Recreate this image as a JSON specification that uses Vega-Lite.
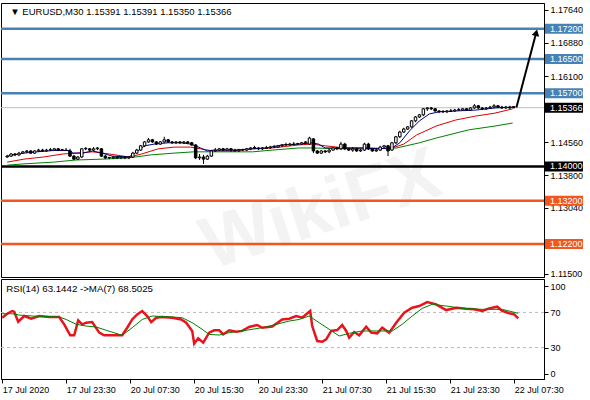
{
"$schema": "https://vega.github.io/schema/vega-lite/v6.json",
"padding": {"left": -4, "top": 2, "right": 0, "bottom": 0},
"background": "white",
"spacing": 2,
"bounds": "flush",
"config": {
  "view": {"stroke": "black", "strokeWidth": 1},
  "axis": {"labelFont": "Liberation Sans", "labelFontSize": 9, "labelColor": "black", "domainColor": "black", "tickColor": "black", "grid": false, "tickSize": 4, "labelPadding": 2},
  "text": {"font": "Liberation Sans", "fontSize": 9}
},
"datasets": {
  "candles": [
{"i":0,"o":1.1422,"h":1.1427,"l":1.1420,"c":1.1424},
{"i":1,"o":1.1424,"h":1.1431,"l":1.1422,"c":1.1429},
{"i":2,"o":1.1429,"h":1.1431,"l":1.1424,"c":1.1427},
{"i":3,"o":1.1427,"h":1.1434,"l":1.1424,"c":1.1431},
{"i":4,"o":1.1431,"h":1.1436,"l":1.1429,"c":1.1434},
{"i":5,"o":1.1434,"h":1.1438,"l":1.1431,"c":1.1436},
{"i":6,"o":1.1436,"h":1.1438,"l":1.1429,"c":1.1431},
{"i":7,"o":1.1431,"h":1.1438,"l":1.1429,"c":1.1436},
{"i":8,"o":1.1436,"h":1.1441,"l":1.1434,"c":1.1438},
{"i":9,"o":1.1438,"h":1.1441,"l":1.1434,"c":1.1436},
{"i":10,"o":1.1436,"h":1.1441,"l":1.1434,"c":1.1438},
{"i":11,"o":1.1438,"h":1.1443,"l":1.1436,"c":1.1439},
{"i":12,"o":1.1438,"h":1.1443,"l":1.1436,"c":1.1441},
{"i":13,"o":1.1441,"h":1.1443,"l":1.1436,"c":1.1438},
{"i":14,"o":1.1438,"h":1.1441,"l":1.1436,"c":1.1439},
{"i":15,"o":1.1438,"h":1.1443,"l":1.1436,"c":1.1437},
{"i":16,"o":1.1436,"h":1.1441,"l":1.1422,"c":1.1424},
{"i":17,"o":1.1424,"h":1.1427,"l":1.1415,"c":1.1417},
{"i":18,"o":1.1417,"h":1.1424,"l":1.1415,"c":1.1422},
{"i":19,"o":1.1422,"h":1.1443,"l":1.1420,"c":1.1441},
{"i":20,"o":1.1441,"h":1.1445,"l":1.1438,"c":1.1442},
{"i":21,"o":1.1441,"h":1.1443,"l":1.1436,"c":1.1438},
{"i":22,"o":1.1438,"h":1.1445,"l":1.1436,"c":1.1441},
{"i":23,"o":1.1441,"h":1.1445,"l":1.1438,"c":1.1443},
{"i":24,"o":1.1441,"h":1.1443,"l":1.1422,"c":1.1424},
{"i":25,"o":1.1424,"h":1.1427,"l":1.1417,"c":1.1420},
{"i":26,"o":1.1420,"h":1.1422,"l":1.1417,"c":1.1421},
{"i":27,"o":1.1420,"h":1.1424,"l":1.1417,"c":1.1422},
{"i":28,"o":1.1422,"h":1.1424,"l":1.1417,"c":1.1420},
{"i":29,"o":1.1420,"h":1.1424,"l":1.1417,"c":1.1422},
{"i":30,"o":1.1422,"h":1.1424,"l":1.1417,"c":1.1420},
{"i":31,"o":1.1420,"h":1.1424,"l":1.1417,"c":1.1422},
{"i":32,"o":1.1422,"h":1.1434,"l":1.1420,"c":1.1431},
{"i":33,"o":1.1431,"h":1.1441,"l":1.1429,"c":1.1438},
{"i":34,"o":1.1438,"h":1.1450,"l":1.1436,"c":1.1448},
{"i":35,"o":1.1448,"h":1.1459,"l":1.1445,"c":1.1457},
{"i":36,"o":1.1457,"h":1.1466,"l":1.1455,"c":1.1462},
{"i":37,"o":1.1462,"h":1.1464,"l":1.1455,"c":1.1457},
{"i":38,"o":1.1457,"h":1.1459,"l":1.1450,"c":1.1452},
{"i":39,"o":1.1452,"h":1.1459,"l":1.1450,"c":1.1457},
{"i":40,"o":1.1457,"h":1.1469,"l":1.1455,"c":1.1462},
{"i":41,"o":1.1462,"h":1.1464,"l":1.1455,"c":1.1457},
{"i":42,"o":1.1457,"h":1.1459,"l":1.1452,"c":1.1455},
{"i":43,"o":1.1455,"h":1.1459,"l":1.1452,"c":1.1457},
{"i":44,"o":1.1457,"h":1.1459,"l":1.1452,"c":1.1455},
{"i":45,"o":1.1455,"h":1.1459,"l":1.1452,"c":1.1457},
{"i":46,"o":1.1457,"h":1.1459,"l":1.1452,"c":1.1455},
{"i":47,"o":1.1455,"h":1.1457,"l":1.1448,"c":1.1450},
{"i":48,"o":1.1450,"h":1.1452,"l":1.1417,"c":1.1420},
{"i":49,"o":1.1420,"h":1.1429,"l":1.1415,"c":1.1422},
{"i":50,"o":1.1422,"h":1.1427,"l":1.1406,"c":1.1417},
{"i":51,"o":1.1417,"h":1.1427,"l":1.1415,"c":1.1424},
{"i":52,"o":1.1424,"h":1.1438,"l":1.1422,"c":1.1436},
{"i":53,"o":1.1436,"h":1.1443,"l":1.1434,"c":1.1438},
{"i":54,"o":1.1438,"h":1.1443,"l":1.1436,"c":1.1441},
{"i":55,"o":1.1441,"h":1.1443,"l":1.1436,"c":1.1438},
{"i":56,"o":1.1438,"h":1.1443,"l":1.1436,"c":1.1441},
{"i":57,"o":1.1441,"h":1.1443,"l":1.1434,"c":1.1438},
{"i":58,"o":1.1438,"h":1.1441,"l":1.1434,"c":1.1436},
{"i":59,"o":1.1436,"h":1.1441,"l":1.1434,"c":1.1438},
{"i":60,"o":1.1438,"h":1.1441,"l":1.1436,"c":1.1439},
{"i":61,"o":1.1438,"h":1.1443,"l":1.1436,"c":1.1441},
{"i":62,"o":1.1441,"h":1.1445,"l":1.1438,"c":1.1443},
{"i":63,"o":1.1443,"h":1.1448,"l":1.1441,"c":1.1444},
{"i":64,"o":1.1443,"h":1.1445,"l":1.1438,"c":1.1441},
{"i":65,"o":1.1441,"h":1.1445,"l":1.1438,"c":1.1443},
{"i":66,"o":1.1443,"h":1.1448,"l":1.1441,"c":1.1442},
{"i":67,"o":1.1443,"h":1.1448,"l":1.1441,"c":1.1445},
{"i":68,"o":1.1445,"h":1.1450,"l":1.1443,"c":1.1446},
{"i":69,"o":1.1445,"h":1.1450,"l":1.1443,"c":1.1448},
{"i":70,"o":1.1448,"h":1.1452,"l":1.1445,"c":1.1450},
{"i":71,"o":1.1450,"h":1.1455,"l":1.1448,"c":1.1451},
{"i":72,"o":1.1450,"h":1.1455,"l":1.1448,"c":1.1452},
{"i":73,"o":1.1452,"h":1.1457,"l":1.1450,"c":1.1451},
{"i":74,"o":1.1452,"h":1.1455,"l":1.1450,"c":1.1453},
{"i":75,"o":1.1452,"h":1.1457,"l":1.1450,"c":1.1455},
{"i":76,"o":1.1455,"h":1.1459,"l":1.1452,"c":1.1457},
{"i":77,"o":1.1452,"h":1.1469,"l":1.1450,"c":1.1466},
{"i":78,"o":1.1464,"h":1.1466,"l":1.1431,"c":1.1436},
{"i":79,"o":1.1436,"h":1.1438,"l":1.1429,"c":1.1431},
{"i":80,"o":1.1431,"h":1.1438,"l":1.1429,"c":1.1436},
{"i":81,"o":1.1436,"h":1.1438,"l":1.1431,"c":1.1434},
{"i":82,"o":1.1434,"h":1.1441,"l":1.1431,"c":1.1438},
{"i":83,"o":1.1438,"h":1.1445,"l":1.1436,"c":1.1443},
{"i":84,"o":1.1443,"h":1.1445,"l":1.1438,"c":1.1441},
{"i":85,"o":1.1441,"h":1.1457,"l":1.1438,"c":1.1452},
{"i":86,"o":1.1452,"h":1.1455,"l":1.1438,"c":1.1441},
{"i":87,"o":1.1441,"h":1.1443,"l":1.1436,"c":1.1438},
{"i":88,"o":1.1438,"h":1.1445,"l":1.1434,"c":1.1441},
{"i":89,"o":1.1441,"h":1.1443,"l":1.1434,"c":1.1436},
{"i":90,"o":1.1436,"h":1.1441,"l":1.1434,"c":1.1438},
{"i":91,"o":1.1438,"h":1.1455,"l":1.1436,"c":1.1452},
{"i":92,"o":1.1452,"h":1.1455,"l":1.1438,"c":1.1441},
{"i":93,"o":1.1441,"h":1.1443,"l":1.1434,"c":1.1436},
{"i":94,"o":1.1436,"h":1.1443,"l":1.1434,"c":1.1438},
{"i":95,"o":1.1438,"h":1.1448,"l":1.1436,"c":1.1445},
{"i":96,"o":1.1445,"h":1.1450,"l":1.1443,"c":1.1448},
{"i":97,"o":1.1448,"h":1.1450,"l":1.1424,"c":1.1436},
{"i":98,"o":1.1438,"h":1.1457,"l":1.1436,"c":1.1455},
{"i":99,"o":1.1455,"h":1.1471,"l":1.1452,"c":1.1469},
{"i":100,"o":1.1469,"h":1.1483,"l":1.1466,"c":1.1480},
{"i":101,"o":1.1480,"h":1.1490,"l":1.1478,"c":1.1487},
{"i":102,"o":1.1487,"h":1.1494,"l":1.1485,"c":1.1492},
{"i":103,"o":1.1492,"h":1.1508,"l":1.1490,"c":1.1506},
{"i":104,"o":1.1506,"h":1.1517,"l":1.1503,"c":1.1515},
{"i":105,"o":1.1515,"h":1.1522,"l":1.1513,"c":1.1520},
{"i":106,"o":1.1520,"h":1.1536,"l":1.1517,"c":1.1534},
{"i":107,"o":1.1534,"h":1.1538,"l":1.1529,"c":1.1536},
{"i":108,"o":1.1536,"h":1.1538,"l":1.1531,"c":1.1534},
{"i":109,"o":1.1534,"h":1.1536,"l":1.1527,"c":1.1529},
{"i":110,"o":1.1529,"h":1.1531,"l":1.1524,"c":1.1527},
{"i":111,"o":1.1527,"h":1.1531,"l":1.1524,"c":1.1528},
{"i":112,"o":1.1527,"h":1.1531,"l":1.1524,"c":1.1529},
{"i":113,"o":1.1529,"h":1.1534,"l":1.1527,"c":1.1528},
{"i":114,"o":1.1529,"h":1.1534,"l":1.1527,"c":1.1531},
{"i":115,"o":1.1531,"h":1.1536,"l":1.1529,"c":1.1532},
{"i":116,"o":1.1531,"h":1.1536,"l":1.1529,"c":1.1534},
{"i":117,"o":1.1534,"h":1.1536,"l":1.1529,"c":1.1531},
{"i":118,"o":1.1531,"h":1.1538,"l":1.1529,"c":1.1536},
{"i":119,"o":1.1536,"h":1.1545,"l":1.1534,"c":1.1541},
{"i":120,"o":1.1541,"h":1.1543,"l":1.1534,"c":1.1536},
{"i":121,"o":1.1536,"h":1.1538,"l":1.1531,"c":1.1534},
{"i":122,"o":1.1534,"h":1.1538,"l":1.1531,"c":1.1536},
{"i":123,"o":1.1536,"h":1.1541,"l":1.1534,"c":1.1538},
{"i":124,"o":1.1538,"h":1.1545,"l":1.1536,"c":1.1541},
{"i":125,"o":1.1541,"h":1.1543,"l":1.1536,"c":1.1538},
{"i":126,"o":1.1538,"h":1.1541,"l":1.1534,"c":1.1536},
{"i":127,"o":1.1536,"h":1.1541,"l":1.1534,"c":1.1538},
{"i":128,"o":1.1538,"h":1.1541,"l":1.1534,"c":1.1536},
{"i":129,"o":1.15391,"h":1.15391,"l":1.1535,"c":1.15366}
  ],
  "ma": [
{"s":"fast","i":0,"v":1.1424},{"s":"fast","i":4.25,"v":1.1431},{"s":"fast","i":7.5,"v":1.1434},{"s":"fast","i":11.75,"v":1.1437},{"s":"fast","i":16,"v":1.1437},{"s":"fast","i":16.75,"v":1.1431},{"s":"fast","i":19.25,"v":1.1431},{"s":"fast","i":21.75,"v":1.1436},{"s":"fast","i":24.25,"v":1.1431},{"s":"fast","i":26.75,"v":1.1424},{"s":"fast","i":31,"v":1.1422},{"s":"fast","i":32.5,"v":1.1431},{"s":"fast","i":35,"v":1.1448},{"s":"fast","i":37.5,"v":1.1452},{"s":"fast","i":41,"v":1.1455},{"s":"fast","i":44.25,"v":1.1455},{"s":"fast","i":46.75,"v":1.1452},{"s":"fast","i":49.25,"v":1.1443},{"s":"fast","i":51,"v":1.1436},{"s":"fast","i":52.5,"v":1.1438},{"s":"fast","i":57.5,"v":1.1438},{"s":"fast","i":62.5,"v":1.1441},{"s":"fast","i":66,"v":1.1443},{"s":"fast","i":70,"v":1.1450},{"s":"fast","i":74.25,"v":1.1452},{"s":"fast","i":77.5,"v":1.1455},{"s":"fast","i":79.25,"v":1.1452},{"s":"fast","i":81,"v":1.1443},{"s":"fast","i":86,"v":1.1443},{"s":"fast","i":90,"v":1.1443},{"s":"fast","i":94.25,"v":1.1441},{"s":"fast","i":98,"v":1.1443},{"s":"fast","i":100,"v":1.1455},{"s":"fast","i":102.5,"v":1.1483},{"s":"fast","i":105,"v":1.1506},{"s":"fast","i":107.5,"v":1.1522},{"s":"fast","i":110,"v":1.1527},{"s":"fast","i":114.25,"v":1.1529},{"s":"fast","i":119.25,"v":1.1531},{"s":"fast","i":124.25,"v":1.1536},{"s":"fast","i":128.75,"v":1.1538},
{"s":"mid","i":0,"v":1.1410},{"s":"mid","i":4.25,"v":1.1417},{"s":"mid","i":9.25,"v":1.1422},{"s":"mid","i":14.25,"v":1.1429},{"s":"mid","i":17.5,"v":1.1431},{"s":"mid","i":21.75,"v":1.1434},{"s":"mid","i":26,"v":1.1429},{"s":"mid","i":31,"v":1.1422},{"s":"mid","i":34.25,"v":1.1429},{"s":"mid","i":38.5,"v":1.1441},{"s":"mid","i":42.5,"v":1.1445},{"s":"mid","i":46.75,"v":1.1445},{"s":"mid","i":49.25,"v":1.1441},{"s":"mid","i":52.5,"v":1.1436},{"s":"mid","i":57.5,"v":1.1436},{"s":"mid","i":62.5,"v":1.1441},{"s":"mid","i":67.5,"v":1.1443},{"s":"mid","i":74.25,"v":1.1450},{"s":"mid","i":77.5,"v":1.1452},{"s":"mid","i":81,"v":1.1448},{"s":"mid","i":86,"v":1.1443},{"s":"mid","i":92.5,"v":1.1443},{"s":"mid","i":97.5,"v":1.1441},{"s":"mid","i":101,"v":1.1452},{"s":"mid","i":104.25,"v":1.1473},{"s":"mid","i":109.25,"v":1.1494},{"s":"mid","i":114.25,"v":1.1508},{"s":"mid","i":119.25,"v":1.1517},{"s":"mid","i":124.25,"v":1.1524},{"s":"mid","i":128.75,"v":1.1534},
{"s":"slow","i":0,"v":1.1403},{"s":"slow","i":4.25,"v":1.1406},{"s":"slow","i":11.75,"v":1.1410},{"s":"slow","i":17.5,"v":1.1415},{"s":"slow","i":24.25,"v":1.1417},{"s":"slow","i":31,"v":1.1420},{"s":"slow","i":36.75,"v":1.1427},{"s":"slow","i":42.5,"v":1.1431},{"s":"slow","i":47.5,"v":1.1434},{"s":"slow","i":52.5,"v":1.1434},{"s":"slow","i":62.5,"v":1.1434},{"s":"slow","i":67.5,"v":1.1438},{"s":"slow","i":74.25,"v":1.1443},{"s":"slow","i":77.5,"v":1.1443},{"s":"slow","i":86,"v":1.1441},{"s":"slow","i":94.25,"v":1.1441},{"s":"slow","i":99.25,"v":1.1443},{"s":"slow","i":105,"v":1.1455},{"s":"slow","i":109.25,"v":1.1466},{"s":"slow","i":117.5,"v":1.1485},{"s":"slow","i":124.25,"v":1.1494},{"s":"slow","i":128.75,"v":1.1501}
  ],
  "rsi": [
{"s":"rsi","i":0,"v":64},{"s":"rsi","i":1.25,"v":68.5},{"s":"rsi","i":2.5,"v":71.6},{"s":"rsi","i":3,"v":70.8},{"s":"rsi","i":4,"v":59.4},{"s":"rsi","i":5.5,"v":65.9},{"s":"rsi","i":7.25,"v":62.9},{"s":"rsi","i":9.25,"v":65.9},{"s":"rsi","i":11.75,"v":64.8},{"s":"rsi","i":14.25,"v":64.8},{"s":"rsi","i":15.5,"v":56.4},{"s":"rsi","i":17,"v":44},{"s":"rsi","i":18,"v":44},{"s":"rsi","i":19,"v":61},{"s":"rsi","i":20,"v":56.5},{"s":"rsi","i":21,"v":58.3},{"s":"rsi","i":22.5,"v":59},{"s":"rsi","i":24.25,"v":47},{"s":"rsi","i":25.5,"v":44},{"s":"rsi","i":27.5,"v":44},{"s":"rsi","i":30,"v":44},{"s":"rsi","i":31.25,"v":52.6},{"s":"rsi","i":32.5,"v":62},{"s":"rsi","i":33.75,"v":67.8},{"s":"rsi","i":35,"v":71.6},{"s":"rsi","i":36.25,"v":65.9},{"s":"rsi","i":37.25,"v":59},{"s":"rsi","i":38.5,"v":64},{"s":"rsi","i":40,"v":64.8},{"s":"rsi","i":42.5,"v":64},{"s":"rsi","i":44.75,"v":62},{"s":"rsi","i":46,"v":58.3},{"s":"rsi","i":47.5,"v":49},{"s":"rsi","i":48,"v":34.4},{"s":"rsi","i":49,"v":40.5},{"s":"rsi","i":50.25,"v":35.6},{"s":"rsi","i":51.75,"v":47},{"s":"rsi","i":53,"v":49.7},{"s":"rsi","i":54.25,"v":49.7},{"s":"rsi","i":55.25,"v":45},{"s":"rsi","i":56.75,"v":49.7},{"s":"rsi","i":58.5,"v":48},{"s":"rsi","i":60,"v":49},{"s":"rsi","i":61.75,"v":53.4},{"s":"rsi","i":63.75,"v":55.7},{"s":"rsi","i":65,"v":52.6},{"s":"rsi","i":67.5,"v":54},{"s":"rsi","i":70,"v":62},{"s":"rsi","i":71.75,"v":62.9},{"s":"rsi","i":73.5,"v":65.9},{"s":"rsi","i":75,"v":64},{"s":"rsi","i":77,"v":71.6},{"s":"rsi","i":77.5,"v":54.5},{"s":"rsi","i":78.75,"v":37.5},{"s":"rsi","i":80,"v":36.7},{"s":"rsi","i":81,"v":39.4},{"s":"rsi","i":82.25,"v":48.9},{"s":"rsi","i":83.75,"v":50},{"s":"rsi","i":85,"v":55.7},{"s":"rsi","i":86,"v":48.9},{"s":"rsi","i":86.75,"v":41.3},{"s":"rsi","i":88,"v":47.7},{"s":"rsi","i":89.25,"v":44},{"s":"rsi","i":91,"v":53.8},{"s":"rsi","i":92.25,"v":47},{"s":"rsi","i":93.75,"v":46.2},{"s":"rsi","i":95,"v":52.6},{"s":"rsi","i":96.75,"v":47},{"s":"rsi","i":98.5,"v":58.3},{"s":"rsi","i":100.5,"v":69.7},{"s":"rsi","i":102.5,"v":75.4},{"s":"rsi","i":104.25,"v":77.3},{"s":"rsi","i":106.25,"v":81.8},{"s":"rsi","i":108.5,"v":79.2},{"s":"rsi","i":111,"v":72.7},{"s":"rsi","i":113.5,"v":75.4},{"s":"rsi","i":116,"v":74.2},{"s":"rsi","i":118,"v":73.5},{"s":"rsi","i":120,"v":71.6},{"s":"rsi","i":121.75,"v":74.6},{"s":"rsi","i":123.75,"v":76.5},{"s":"rsi","i":125,"v":71.6},{"s":"rsi","i":126.75,"v":69},{"s":"rsi","i":128,"v":67.8},{"s":"rsi","i":129,"v":63.1},
{"s":"ma","i":0,"v":68.5},{"s":"ma","i":2.5,"v":68.5},{"s":"ma","i":4.25,"v":67},{"s":"ma","i":7.5,"v":65.9},{"s":"ma","i":14.25,"v":64.8},{"s":"ma","i":16,"v":62},{"s":"ma","i":18.5,"v":56.5},{"s":"ma","i":21,"v":54.5},{"s":"ma","i":23.5,"v":53.4},{"s":"ma","i":26,"v":49.7},{"s":"ma","i":30,"v":44},{"s":"ma","i":32.5,"v":52.6},{"s":"ma","i":35,"v":62},{"s":"ma","i":37.5,"v":65.9},{"s":"ma","i":42.5,"v":64.8},{"s":"ma","i":45,"v":64},{"s":"ma","i":47.5,"v":58.3},{"s":"ma","i":50,"v":50.8},{"s":"ma","i":51.75,"v":45},{"s":"ma","i":54.25,"v":44.3},{"s":"ma","i":56.75,"v":47},{"s":"ma","i":61,"v":49.7},{"s":"ma","i":66,"v":53.4},{"s":"ma","i":71.75,"v":60.2},{"s":"ma","i":74.25,"v":62},{"s":"ma","i":76.75,"v":65.9},{"s":"ma","i":79.25,"v":58.3},{"s":"ma","i":81.75,"v":50.8},{"s":"ma","i":84.25,"v":43.2},{"s":"ma","i":86.75,"v":46.2},{"s":"ma","i":90,"v":48.9},{"s":"ma","i":93.5,"v":48.9},{"s":"ma","i":97.5,"v":48.9},{"s":"ma","i":100,"v":56.5},{"s":"ma","i":102.5,"v":65.9},{"s":"ma","i":105,"v":74.6},{"s":"ma","i":107.5,"v":79.2},{"s":"ma","i":111,"v":77.3},{"s":"ma","i":115,"v":74.6},{"s":"ma","i":120,"v":73.5},{"s":"ma","i":125,"v":73.5},{"s":"ma","i":129,"v":69}
  ],
  "levels": [
{"p":1.172,"kind":"resistance"},{"p":1.165,"kind":"resistance"},{"p":1.157,"kind":"resistance"},{"p":1.15366,"kind":"price"},{"p":1.14,"kind":"pivot"},{"p":1.132,"kind":"support"},{"p":1.122,"kind":"support"}
  ],
  "arrow": [{"i":129.7,"p":1.1537},{"i":134.6,"p":1.1706}],
  "arrowhead": [{"i":134.75,"p":1.1711}],
  "rsilevels": [{"v":30},{"v":70}]
},
"vconcat": [
{
  "width": 543, "height": 274,
  "layer": [
    {
      "data": {"values": [{"brand": "WikiFX"}]},
      "mark": {"type": "text", "align": "center", "baseline": "middle", "color": "#f3f3f3", "fontSize": 74, "fontWeight": "bold", "angle": -18, "font": "Liberation Sans"},
      "encoding": {
        "x": {"datum": 80, "type": "quantitative", "scale": {"domain": [-0.3, 135.45], "nice": false, "zero": false}, "axis": null},
        "y": {"datum": 1.1297, "type": "quantitative", "scale": {"domain": [1.1143, 1.178], "nice": false, "zero": false},
              "axis": {"orient": "right", "values": [1.1764, 1.1688, 1.161, 1.1456, 1.138, 1.1304, 1.115], "format": ".5f", "title": null}},
        "text": {"field": "brand"}
      }
    },
    {
      "data": {"name": "levels"},
      "transform": [{"filter": "datum.kind != 'price'"}],
      "mark": {"type": "rule", "strokeWidth": 2.5},
      "encoding": {
        "y": {"field": "p", "type": "quantitative", "scale": {"domain": [1.1143, 1.178], "nice": false, "zero": false},
              "axis": {"orient": "right", "values": [1.1764, 1.1688, 1.161, 1.1456, 1.138, 1.1304, 1.115], "format": ".5f", "title": null}},
        "color": {"field": "kind", "type": "nominal", "scale": {"domain": ["resistance", "price", "pivot", "support"], "range": ["#4682b4", "#000000", "#000000", "#f0561e"]}, "legend": null}
      }
    },
    {
      "data": {"name": "levels"},
      "transform": [{"filter": "datum.kind == 'price'"}],
      "mark": {"type": "rule", "strokeWidth": 1, "color": "#c0c0c0"},
      "encoding": {
        "y": {"field": "p", "type": "quantitative", "scale": {"domain": [1.1143, 1.178], "nice": false, "zero": false},
              "axis": {"orient": "right", "values": [1.1764, 1.1688, 1.161, 1.1456, 1.138, 1.1304, 1.115], "format": ".5f", "title": null}}
      }
    },
    {
      "data": {"name": "ma"},
      "transform": [{"filter": "datum.s == 'slow'"}],
      "mark": {"type": "line", "strokeWidth": 1, "color": "#008000"},
      "encoding": {
        "x": {"field": "i", "type": "quantitative", "scale": {"domain": [-0.3, 135.45], "nice": false, "zero": false}, "axis": null},
        "y": {"field": "v", "type": "quantitative", "scale": {"domain": [1.1143, 1.178], "nice": false, "zero": false},
              "axis": {"orient": "right", "values": [1.1764, 1.1688, 1.161, 1.1456, 1.138, 1.1304, 1.115], "format": ".5f", "title": null}}
      }
    },
    {
      "data": {"name": "ma"},
      "transform": [{"filter": "datum.s == 'mid'"}],
      "mark": {"type": "line", "strokeWidth": 1, "color": "#dd0000"},
      "encoding": {
        "x": {"field": "i", "type": "quantitative", "scale": {"domain": [-0.3, 135.45], "nice": false, "zero": false}, "axis": null},
        "y": {"field": "v", "type": "quantitative", "scale": {"domain": [1.1143, 1.178], "nice": false, "zero": false},
              "axis": {"orient": "right", "values": [1.1764, 1.1688, 1.161, 1.1456, 1.138, 1.1304, 1.115], "format": ".5f", "title": null}}
      }
    },
    {
      "data": {"name": "ma"},
      "transform": [{"filter": "datum.s == 'fast'"}],
      "mark": {"type": "line", "strokeWidth": 1, "color": "#000090"},
      "encoding": {
        "x": {"field": "i", "type": "quantitative", "scale": {"domain": [-0.3, 135.45], "nice": false, "zero": false}, "axis": null},
        "y": {"field": "v", "type": "quantitative", "scale": {"domain": [1.1143, 1.178], "nice": false, "zero": false},
              "axis": {"orient": "right", "values": [1.1764, 1.1688, 1.161, 1.1456, 1.138, 1.1304, 1.115], "format": ".5f", "title": null}}
      }
    },
    {
      "data": {"name": "candles"},
      "mark": {"type": "rule", "strokeWidth": 1, "color": "black"},
      "encoding": {
        "x": {"field": "i", "type": "quantitative", "scale": {"domain": [-0.3, 135.45], "nice": false, "zero": false}, "axis": null},
        "y": {"field": "l", "type": "quantitative", "scale": {"domain": [1.1143, 1.178], "nice": false, "zero": false},
              "axis": {"orient": "right", "values": [1.1764, 1.1688, 1.161, 1.1456, 1.138, 1.1304, 1.115], "format": ".5f", "title": null}},
        "y2": {"field": "h"}
      }
    },
    {
      "data": {"name": "candles"},
      "mark": {"type": "bar", "size": 2.5, "stroke": "black", "strokeWidth": 1},
      "encoding": {
        "x": {"field": "i", "type": "quantitative", "scale": {"domain": [-0.3, 135.45], "nice": false, "zero": false}, "axis": null},
        "y": {"field": "o", "type": "quantitative", "scale": {"domain": [1.1143, 1.178], "nice": false, "zero": false},
              "axis": {"orient": "right", "values": [1.1764, 1.1688, 1.161, 1.1456, 1.138, 1.1304, 1.115], "format": ".5f", "title": null}},
        "y2": {"field": "c"},
        "fill": {"condition": {"test": "datum.c >= datum.o", "value": "white"}, "value": "black"}
      }
    },
    {
      "data": {"name": "arrow"},
      "mark": {"type": "line", "strokeWidth": 2, "color": "black"},
      "encoding": {
        "x": {"field": "i", "type": "quantitative", "scale": {"domain": [-0.3, 135.45], "nice": false, "zero": false}, "axis": null},
        "y": {"field": "p", "type": "quantitative", "scale": {"domain": [1.1143, 1.178], "nice": false, "zero": false},
              "axis": {"orient": "right", "values": [1.1764, 1.1688, 1.161, 1.1456, 1.138, 1.1304, 1.115], "format": ".5f", "title": null}}
      }
    },
    {
      "data": {"name": "arrowhead"},
      "mark": {"type": "point", "shape": "triangle-up", "filled": true, "color": "black", "opacity": 1, "size": 60, "angle": 14},
      "encoding": {
        "x": {"field": "i", "type": "quantitative", "scale": {"domain": [-0.3, 135.45], "nice": false, "zero": false}, "axis": null},
        "y": {"field": "p", "type": "quantitative", "scale": {"domain": [1.1143, 1.178], "nice": false, "zero": false},
              "axis": {"orient": "right", "values": [1.1764, 1.1688, 1.161, 1.1456, 1.138, 1.1304, 1.115], "format": ".5f", "title": null}}
      }
    },
    {
      "data": {"values": [{}]},
      "mark": {"type": "text", "align": "left", "baseline": "middle", "color": "black", "fontSize": 9.5},
      "encoding": {
        "x": {"datum": 0.8, "type": "quantitative", "scale": {"domain": [-0.3, 135.45], "nice": false, "zero": false}, "axis": null},
        "y": {"datum": 1.1758, "type": "quantitative", "scale": {"domain": [1.1143, 1.178], "nice": false, "zero": false},
              "axis": {"orient": "right", "values": [1.1764, 1.1688, 1.161, 1.1456, 1.138, 1.1304, 1.115], "format": ".5f", "title": null}},
        "text": {"value": "▼ EURUSD,M30  1.15391 1.15391 1.15350 1.15366"}
      }
    },
    {
      "data": {"name": "levels"},
      "mark": {"type": "point", "shape": "M0.1,-0.5L3.9,-0.5L3.9,0.5L0.1,0.5Z", "size": 400, "filled": true, "opacity": 1, "strokeWidth": 0},
      "encoding": {
        "x": {"value": "width"},
        "y": {"field": "p", "type": "quantitative", "scale": {"domain": [1.1143, 1.178], "nice": false, "zero": false},
              "axis": {"orient": "right", "values": [1.1764, 1.1688, 1.161, 1.1456, 1.138, 1.1304, 1.115], "format": ".5f", "title": null}},
        "color": {"field": "kind", "type": "nominal", "scale": {"domain": ["resistance", "price", "pivot", "support"], "range": ["#4682b4", "#000000", "#000000", "#f0561e"]}, "legend": null}
      }
    },
    {
      "data": {"name": "levels"},
      "mark": {"type": "text", "align": "left", "baseline": "middle", "dx": 6, "color": "white", "fontSize": 9},
      "encoding": {
        "x": {"value": "width"},
        "y": {"field": "p", "type": "quantitative", "scale": {"domain": [1.1143, 1.178], "nice": false, "zero": false},
              "axis": {"orient": "right", "values": [1.1764, 1.1688, 1.161, 1.1456, 1.138, 1.1304, 1.115], "format": ".5f", "title": null}},
        "text": {"field": "p", "type": "quantitative", "format": ".5f"}
      }
    }
  ]
},
{
  "width": 543, "height": 100,
  "layer": [
    {
      "data": {"name": "rsilevels"},
      "mark": {"type": "rule", "strokeWidth": 1, "color": "#b8b8b8", "strokeDash": [3, 3]},
      "encoding": {
        "y": {"field": "v", "type": "quantitative", "scale": {"domain": [-5.7, 108], "nice": false, "zero": false},
              "axis": {"orient": "right", "values": [0, 30, 70, 100], "title": null}}
      }
    },
    {
      "data": {"name": "rsi"},
      "transform": [{"filter": "datum.s == 'rsi'"}],
      "mark": {"type": "line", "strokeWidth": 2.5, "color": "#e8141c"},
      "encoding": {
        "x": {"field": "i", "type": "quantitative", "scale": {"domain": [-0.3, 135.45], "nice": false, "zero": false},
              "axis": {"values": [0, 16, 32, 48, 64, 80, 96, 112, 128], "labelAlign": "left", "title": null, "labelExpr": "['17 Jul 2020','17 Jul 23:30','20 Jul 07:30','20 Jul 15:30','20 Jul 23:30','21 Jul 07:30','21 Jul 15:30','21 Jul 23:30','22 Jul 07:30'][round(datum.value/16)]"}},
        "y": {"field": "v", "type": "quantitative", "scale": {"domain": [-5.7, 108], "nice": false, "zero": false},
              "axis": {"orient": "right", "values": [0, 30, 70, 100], "title": null}}
      }
    },
    {
      "data": {"name": "rsi"},
      "transform": [{"filter": "datum.s == 'ma'"}],
      "mark": {"type": "line", "strokeWidth": 1, "color": "#008000"},
      "encoding": {
        "x": {"field": "i", "type": "quantitative", "scale": {"domain": [-0.3, 135.45], "nice": false, "zero": false},
              "axis": {"values": [0, 16, 32, 48, 64, 80, 96, 112, 128], "labelAlign": "left", "title": null, "labelExpr": "['17 Jul 2020','17 Jul 23:30','20 Jul 07:30','20 Jul 15:30','20 Jul 23:30','21 Jul 07:30','21 Jul 15:30','21 Jul 23:30','22 Jul 07:30'][round(datum.value/16)]"}},
        "y": {"field": "v", "type": "quantitative", "scale": {"domain": [-5.7, 108], "nice": false, "zero": false},
              "axis": {"orient": "right", "values": [0, 30, 70, 100], "title": null}}
      }
    },
    {
      "data": {"values": [{}]},
      "mark": {"type": "text", "align": "left", "baseline": "middle", "color": "black", "fontSize": 9.7},
      "encoding": {
        "x": {"datum": 1, "type": "quantitative", "scale": {"domain": [-0.3, 135.45], "nice": false, "zero": false},
              "axis": {"values": [0, 16, 32, 48, 64, 80, 96, 112, 128], "labelAlign": "left", "title": null, "labelExpr": "['17 Jul 2020','17 Jul 23:30','20 Jul 07:30','20 Jul 15:30','20 Jul 23:30','21 Jul 07:30','21 Jul 15:30','21 Jul 23:30','22 Jul 07:30'][round(datum.value/16)]"}},
        "y": {"datum": 96.5, "type": "quantitative", "scale": {"domain": [-5.7, 108], "nice": false, "zero": false},
              "axis": {"orient": "right", "values": [0, 30, 70, 100], "title": null}},
        "text": {"value": "RSI(14) 63.1442  ->MA(7) 68.5025"}
      }
    }
  ]
}
]
}
